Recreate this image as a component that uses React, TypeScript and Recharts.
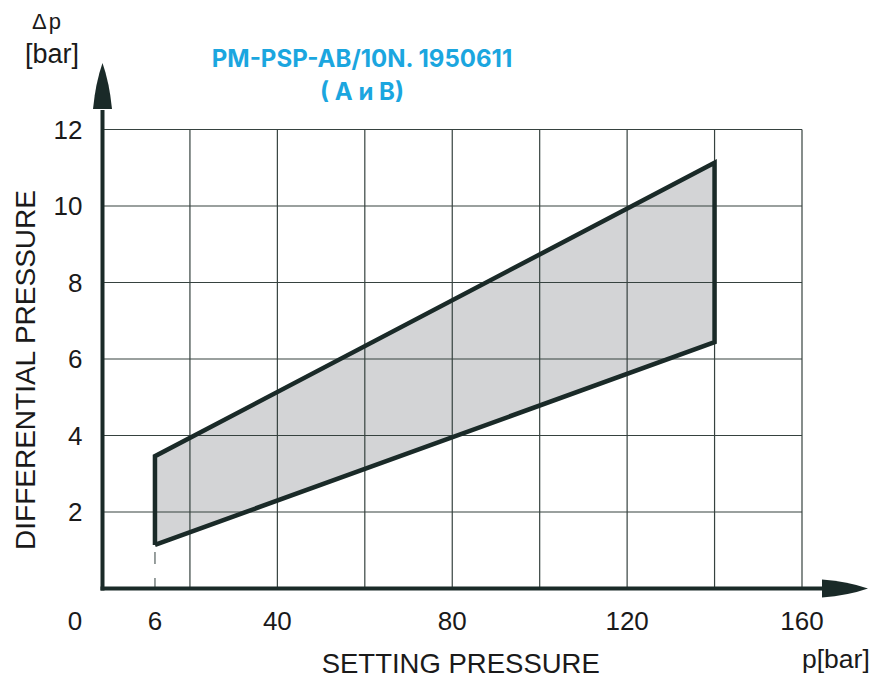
import React from "react";
import { ComposedChart, Area, Line, XAxis, YAxis, ReferenceLine } from "recharts";

// setting pressure positions on the axis (the "6" mark sits at the 12 position in the drawing)
const bandP = [12, 140];
const dpLower = [1.14, 6.44];
const dpUpper = [3.46, 11.13];

const xTicks = [0, 12, 40, 80, 120, 160];
const xTickLabels = ["0", "6", "40", "80", "120", "160"];
const yTicks = [2, 4, 6, 8, 10, 12];
const gridX = [20, 40, 60, 80, 100, 120, 140, 160];
const gridY = [2, 4, 6, 8, 10, 12];

const AXIS = "#1a2a28";
const GRID = "#36423f";
const FILL = "#d3d4d6";
const TEXT = "#1a1a1a";
const BLUE = "#1ba6df";

const band = bandP.map((p, i) => ({ p, range: [dpLower[i], dpUpper[i]] }));
const outline = [
  { p: bandP[0], dp: dpLower[0] },
  { p: bandP[0], dp: dpUpper[0] },
  { p: bandP[1], dp: dpUpper[1] },
  { p: bandP[1], dp: dpLower[1] },
  { p: bandP[0], dp: dpLower[0] },
];
const leader = [
  { p: bandP[0], dp: dpLower[0] },
  { p: bandP[0], dp: 0 },
];

const XTick = (props: any) => {
  const { x, y, payload } = props;
  const idx = xTicks.indexOf(payload.value);
  // origin label is pushed left of the axis like in the drawing
  const tx = payload.value === 0 ? x - 27.5 : x;
  return (
    <text x={tx} y={y} dy="0.71em" textAnchor="middle" fontSize={26} fill={TEXT}>
      {idx >= 0 ? xTickLabels[idx] : payload.value}
    </text>
  );
};

const YAxisDecor = (props: any) => {
  const { viewBox } = props;
  const ax = viewBox.x + viewBox.width;
  const top = viewBox.y;
  const bottom = viewBox.y + viewBox.height;
  const tip = top - 66.5;
  const base = top - 20.5;
  return (
    <g>
      <line x1={ax} y1={bottom + 2} x2={ax} y2={base + 1} stroke={AXIS} strokeWidth={4} />
      <path
        d={`M${ax},${tip} Q${ax + 7},${tip + 20} ${ax + 9.5},${base} L${ax - 9.5},${base} Q${ax - 7},${tip + 20} ${ax},${tip} Z`}
        fill={AXIS}
      />
      <text
        transform={`translate(25, ${(top + bottom) / 2 + 11}) rotate(-90)`}
        textAnchor="middle"
        dominantBaseline="central"
        fontSize={28}
        fill={TEXT}
      >
        DIFFERENTIAL PRESSURE
      </text>
      <text x={47.5} y={29} textAnchor="middle" fontSize={22} letterSpacing={2} fill={TEXT}>
        Δp
      </text>
      <text x={52} y={63} textAnchor="middle" fontSize={27} fill={TEXT}>
        [bar]
      </text>
      <text x={362} y={67} textAnchor="middle" fontSize={24} fontWeight={700} fontFamily="Inter" fill={BLUE}>
        PM-PSP-AB/10N. 1950611
      </text>
      <text x={362} y={100} textAnchor="middle" fontSize={24} fontWeight={700} fontFamily="Inter" fill={BLUE}>
        ( A и B)
      </text>
    </g>
  );
};

const XAxisDecor = (props: any) => {
  const { viewBox } = props;
  const ay = viewBox.y;
  const left = viewBox.x;
  const right = viewBox.x + viewBox.width;
  const base = right + 20;
  const tip = right + 66;
  return (
    <g>
      <line x1={left - 2} y1={ay} x2={base + 1} y2={ay} stroke={AXIS} strokeWidth={4} />
      <path
        d={`M${tip},${ay} Q${tip - 20},${ay - 7} ${base},${ay - 9} L${base},${ay + 9} Q${tip - 20},${ay + 7} ${tip},${ay} Z`}
        fill={AXIS}
      />
      <text x={(left + right) / 2 + 8.5} y={673} textAnchor="middle" fontSize={27.5} fill={TEXT}>
        SETTING PRESSURE
      </text>
      <text x={right} y={668} textAnchor="start" fontSize={26.5} fill={TEXT}>
        p[bar]
      </text>
    </g>
  );
};

export default function App() {
  return (
    <div
      style={{
        position: "absolute",
        left: 0,
        top: 0,
        width: 871,
        height: 678,
        background: "#fff",
        fontFamily: '"Liberation Sans", Arial, sans-serif',
      }}
    >
      <ComposedChart
        width={871}
        height={678}
        margin={{ top: 129.5, right: 69, bottom: 49.5, left: 42.5 }}
      >
        <XAxis
          dataKey="p"
          type="number"
          domain={[0, 160]}
          ticks={xTicks}
          interval={0}
          axisLine={false}
          tickLine={false}
          tickSize={6}
          tickMargin={17.5}
          height={40}
          tick={<XTick />}
          label={{ content: <XAxisDecor /> }}
        />
        <YAxis
          type="number"
          domain={[0, 12]}
          ticks={yTicks}
          interval={0}
          axisLine={false}
          tickLine={false}
          tickSize={6}
          tickMargin={14}
          width={60}
          tick={{ fontSize: 26, fill: TEXT }}
          label={{ content: <YAxisDecor /> }}
        />
        <Area
          data={band}
          dataKey="range"
          type="linear"
          fill={FILL}
          fillOpacity={1}
          stroke="none"
          isAnimationActive={false}
        />
        {gridX.map((v) => (
          <ReferenceLine key={"gx" + v} x={v} stroke={GRID} strokeWidth={1.2} />
        ))}
        {gridY.map((v) => (
          <ReferenceLine key={"gy" + v} y={v} stroke={GRID} strokeWidth={1.2} />
        ))}
        <Line
          data={leader}
          dataKey="dp"
          type="linear"
          stroke="#7f8887"
          strokeWidth={1.6}
          strokeDasharray="0 7 12 7"
          dot={false}
          activeDot={false}
          isAnimationActive={false}
        />
        <Line
          data={outline}
          dataKey="dp"
          type="linear"
          stroke={AXIS}
          strokeWidth={4.5}
          strokeLinejoin="miter"
          dot={false}
          activeDot={false}
          isAnimationActive={false}
        />
      </ComposedChart>
    </div>
  );
}
